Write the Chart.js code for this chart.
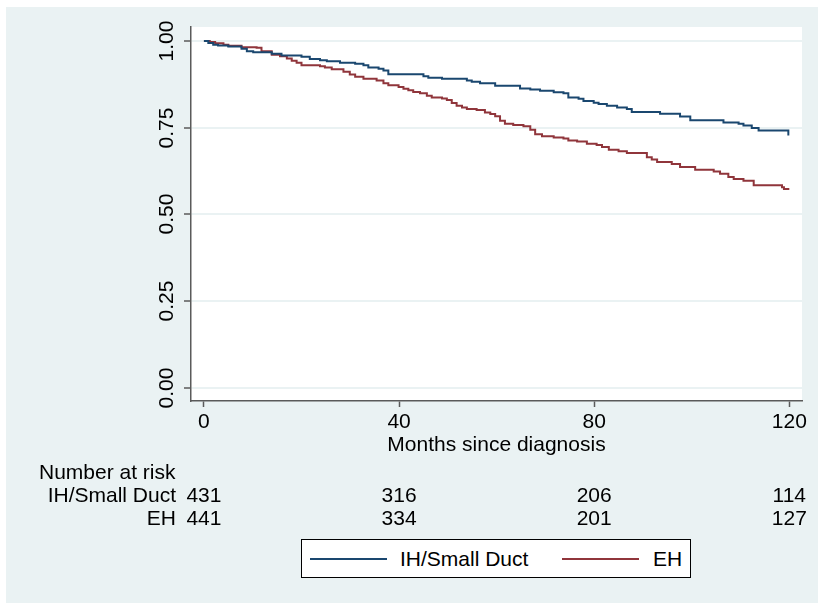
<!DOCTYPE html>
<html lang="en">
<head>
  <meta charset="UTF-8" />
  <title>Kaplan-Meier: months since diagnosis</title>
  <script src="https://cdn.jsdelivr.net/npm/chart.js@4.4.1/dist/chart.umd.min.js"></script>
  <style>
    html, body {margin: 0; padding: 0; background: #fff;}
    body {width: 818px; height: 603px; position: relative; overflow: hidden;
          font-family: "Liberation Sans", Arial, sans-serif; color: #000;}
    #km {position: absolute; left: 0; top: 0;}
    .txt {position: absolute; font-size: 21px; line-height: 21px; white-space: nowrap;}
    #legend {position: absolute; left: 301px; top: 539px; width: 388px; height: 37px;
             border: 1px solid #000; background: #fff;}
    .swatch {position: absolute; top: 18px; width: 77px; height: 2px;}
  </style>
</head>
<body>
  <canvas id="km" width="818" height="603"></canvas>
  <div id="legend">
    <div class="swatch" style="left:8px;background:#1a476f"></div>
    <div class="txt" style="left:98px;top:8px">IH/Small Duct</div>
    <div class="swatch" style="left:260px;background:#90353b"></div>
    <div class="txt" style="left:351px;top:8px">EH</div>
  </div>

  <script>
    // survival steps (time in months, S(t))
    const ihTime = [0, 0.9, 1.9, 2.9, 5.0, 7.7, 8.8, 10.1, 13.9, 15.9, 20.0, 21.7, 23.8, 25.2, 27.9,
      31.0, 32.7, 33.7, 35.8, 36.8, 37.8, 45.0, 46.0, 48.8, 53.9, 54.9, 56.6, 59.7, 64.8, 66.9,
      68.9, 71.7, 73.7, 74.7, 76.8, 77.8, 79.9, 80.9, 82.6, 84.7, 86.7, 87.7, 93.5, 97.6, 99.7,
      106.5, 109.6, 110.6, 112.3, 113.7, 119.8, 120];
    const ihSurv = [1.000, 0.994, 0.989, 0.987, 0.984, 0.977, 0.970, 0.967, 0.963, 0.958, 0.954, 0.948, 0.944, 0.941, 0.937,
      0.934, 0.930, 0.923, 0.920, 0.915, 0.904, 0.898, 0.894, 0.891, 0.886, 0.882, 0.878, 0.871, 0.863, 0.860,
      0.856, 0.852, 0.849, 0.837, 0.833, 0.827, 0.822, 0.818, 0.813, 0.808, 0.804, 0.795, 0.790, 0.782, 0.771,
      0.765, 0.761, 0.756, 0.749, 0.742, 0.730, 0.730];

    const ehTime = [0, 1.2, 2.3, 4.0, 5.0, 7.7, 10.8, 11.8, 13.9, 15.6, 17.0, 18.0, 19.0, 20.0, 23.8,
      24.8, 26.2, 28.6, 29.9, 31.0, 32.7, 35.4, 36.8, 37.8, 39.9, 40.9, 41.9, 42.9, 44.3, 45.7,
      46.7, 48.8, 49.8, 50.8, 51.8, 52.9, 53.9, 55.9, 57.6, 58.7, 59.7, 60.7, 61.7, 63.4, 65.5,
      66.9, 67.9, 69.3, 71.7, 73.7, 74.7, 76.5, 78.5, 80.5, 81.6, 83.0, 85.0, 86.7, 90.8, 91.8,
      92.9, 95.9, 97.6, 100.7, 104.5, 105.8, 107.5, 108.6, 110.6, 112.7, 118.5, 118.9, 120];
    const ehSurv = [1.000, 0.997, 0.993, 0.989, 0.986, 0.982, 0.980, 0.970, 0.960, 0.956, 0.949, 0.943, 0.937, 0.930, 0.927,
      0.923, 0.918, 0.911, 0.903, 0.897, 0.891, 0.886, 0.878, 0.872, 0.867, 0.862, 0.858, 0.853, 0.849, 0.842,
      0.837, 0.834, 0.830, 0.821, 0.813, 0.808, 0.804, 0.801, 0.794, 0.789, 0.783, 0.770, 0.761, 0.758, 0.754,
      0.744, 0.731, 0.725, 0.722, 0.719, 0.713, 0.710, 0.704, 0.700, 0.694, 0.686, 0.682, 0.677, 0.665, 0.658,
      0.651, 0.645, 0.637, 0.629, 0.624, 0.617, 0.608, 0.602, 0.597, 0.584, 0.578, 0.573, 0.573];

    const xTicks = [0, 40, 80, 120];
    const yTicks = [0, 0.25, 0.5, 0.75, 1];
    const yTickLabels = ["0.00", "0.25", "0.50", "0.75", "1.00"];

    // number at risk table
    const riskTimes = [0, 40, 80, 120];
    const riskIH = [431, 316, 206, 114];
    const riskEH = [441, 334, 201, 127];
    const groupNames = ["IH/Small Duct", "EH"];

    const BG = "#EAF2F3";
    const AXIS = "#5a5a5a";
    const font = {family: "'Liberation Sans', Arial, sans-serif", size: 21};

    const toPts = (ts, ss) => ts.map((t, i) => ({x: t, y: ss[i]}));

    // outer band + white plot region
    const backdrop = {
      id: "backdrop",
      beforeDraw(chart) {
        const {ctx, chartArea: a} = chart;
        ctx.save();
        ctx.fillStyle = "#fff";
        ctx.fillRect(0, 0, chart.width, chart.height);
        ctx.fillStyle = BG;
        ctx.fillRect(6, 7, chart.width - 6, chart.height - 7);
        ctx.fillStyle = "#fff";
        ctx.fillRect(a.left, a.top, a.right - a.left, a.bottom - a.top);
        ctx.restore();
      }
    };

    const chart = new Chart(document.getElementById("km"), {
      type: "line",
      data: {
        datasets: [
          {label: groupNames[0], data: toPts(ihTime, ihSurv), borderColor: "#1a476f",
           borderWidth: 2, pointRadius: 0, stepped: true, fill: false},
          {label: groupNames[1], data: toPts(ehTime, ehSurv), borderColor: "#90353b",
           borderWidth: 2, pointRadius: 0, stepped: true, fill: false}
        ]
      },
      options: {
        responsive: false,
        animation: false,
        layout: {padding: {left: 0, top: 27, right: 16, bottom: 0}},
        plugins: {legend: {display: false}, tooltip: {enabled: false}},
        scales: {
          x: {
            type: "linear", min: -2.65, max: 122.6,
            afterBuildTicks: s => { s.ticks = xTicks.map(v => ({value: v})); },
            afterFit: s => { s.height = 202; },
            ticks: {font: font, color: "#000", padding: 3, callback: v => String(v)},
            grid: {drawOnChartArea: false, drawTicks: true, tickLength: 6, tickColor: AXIS, tickWidth: 1.5},
            border: {color: AXIS, width: 1.5}
          },
          y: {
            type: "linear", min: -0.0375, max: 1.04,
            afterBuildTicks: s => { s.ticks = yTicks.map(v => ({value: v})); },
            afterFit: s => { s.width = 191; },
            ticks: {display: false},
            grid: {color: BG, lineWidth: 2, drawTicks: true, tickLength: 7, tickColor: AXIS, tickWidth: 1.5},
            border: {color: AXIS, width: 1.5}
          }
        }
      },
      plugins: [backdrop]
    });

    // text placed from the chart's own scales
    function addText(str, x, y, align, rotate) {
      const d = document.createElement("div");
      d.className = "txt";
      d.textContent = str;
      d.style.left = x + "px";
      d.style.top = y + "px";
      const tx = align === "right" ? "-100%" : align === "left" ? "0" : "-50%";
      d.style.transform = "translate(" + tx + ",-50%)" + (rotate ? " rotate(-90deg)" : "");
      document.body.appendChild(d);
    }

    const xs = chart.scales.x, ys = chart.scales.y, area = chart.chartArea;
    yTicks.forEach((v, i) => addText(yTickLabels[i], 165, ys.getPixelForValue(v), "center", true));
    addText("Months since diagnosis", (area.left + area.right) / 2, 443, "center");
    addText("Number at risk", 39, 471, "left");
    addText(groupNames[0], 176, 494, "right");
    addText(groupNames[1], 176, 517, "right");
    riskTimes.forEach((t, i) => {
      const px = xs.getPixelForValue(t);
      addText(String(riskIH[i]), px, 494, "center");
      addText(String(riskEH[i]), px, 517, "center");
    });
  </script>
</body>
</html>
